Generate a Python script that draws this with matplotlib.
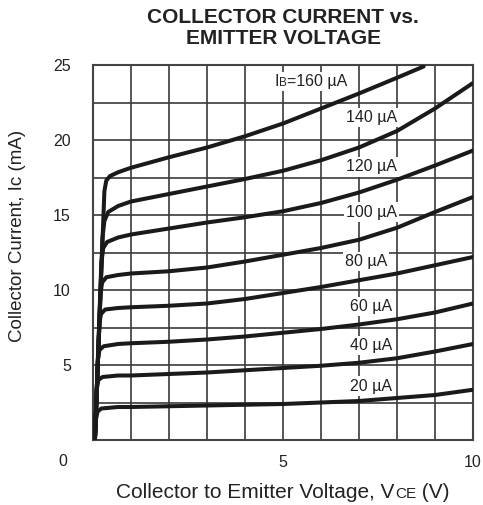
import matplotlib
matplotlib.use("Agg")
import matplotlib.pyplot as plt
from matplotlib.offsetbox import TextArea, HPacker, AnnotationBbox

plt.rcParams['font.family'] = ['Liberation Sans', 'DejaVu Sans']

# ---- data ----
v20 = [0.05, 0.08, 0.12, 0.22, 0.66, 1, 2, 3, 4, 5, 6, 7, 8, 9, 10]
i20 = [0, 1.4, 1.9, 2.1, 2.2, 2.2, 2.25, 2.3, 2.35, 2.4, 2.5, 2.6, 2.8, 3.0, 3.35]
v40 = [0.05, 0.10, 0.14, 0.25, 0.66, 1, 2, 3, 4, 5, 6, 7, 8, 9, 10]
i40 = [0, 3.4, 4.0, 4.2, 4.3, 4.3, 4.4, 4.5, 4.65, 4.8, 4.95, 5.15, 5.45, 5.9, 6.4]
v60 = [0.05, 0.13, 0.17, 0.28, 0.66, 1, 2, 3, 4, 5, 6, 7, 8, 9, 10]
i60 = [0, 5.4, 6.0, 6.25, 6.4, 6.45, 6.55, 6.7, 6.9, 7.15, 7.4, 7.7, 8.05, 8.5, 9.1]
v80 = [0.05, 0.17, 0.21, 0.32, 0.66, 1, 2, 3, 4, 5, 6, 7, 8, 9, 10]
i80 = [0, 7.8, 8.4, 8.7, 8.8, 8.85, 8.95, 9.1, 9.4, 9.8, 10.2, 10.65, 11.1, 11.65, 12.2]
v100 = [0.05, 0.20, 0.24, 0.35, 0.66, 1, 2, 3, 4, 5, 6, 7, 8, 9, 10]
i100 = [0, 9.8, 10.5, 10.85, 11.0, 11.1, 11.25, 11.5, 11.9, 12.35, 12.8, 13.35, 14.15, 15.2, 16.2]
v120 = [0.05, 0.22, 0.27, 0.37, 0.66, 1, 2, 3, 4, 5, 6, 7, 8, 9, 10]
i120 = [0, 11.8, 12.8, 13.2, 13.5, 13.7, 14.1, 14.5, 14.85, 15.25, 15.8, 16.5, 17.35, 18.3, 19.3]
v140 = [0.05, 0.25, 0.30, 0.40, 0.66, 1, 2, 3, 4, 5, 6, 7, 8, 9, 10]
i140 = [0, 13.5, 14.6, 15.2, 15.6, 15.9, 16.4, 16.9, 17.4, 17.95, 18.65, 19.5, 20.6, 22.1, 23.8]
v160 = [0.05, 0.30, 0.35, 0.45, 0.66, 1, 2, 3, 4, 5, 6, 7, 8, 8.7]
i160 = [0, 16.6, 17.3, 17.6, 17.85, 18.15, 18.85, 19.5, 20.25, 21.1, 22.1, 23.1, 24.15, 24.9]

curves = [(v20, i20), (v40, i40), (v60, i60), (v80, i80),
          (v100, i100), (v120, i120), (v140, i140), (v160, i160)]

label_texts = ["20 µA", "40 µA", "60 µA", "80 µA", "100 µA", "120 µA", "140 µA"]
label_x = [7.32, 7.32, 7.32, 7.18, 7.32, 7.32, 7.32]
label_y = [3.6, 6.3, 8.9, 11.9, 15.2, 18.2, 21.5]

x_grid = list(range(0, 11))
y_grid = [0, 2.5, 5, 7.5, 10, 12.5, 15, 17.5, 20, 22.5, 25]
x_ticklabels = ["", "", "", "", "", "5", "", "", "", "", "10"]
y_ticklabels = ["", "", "5", "", "10", "", "15", "", "20", "", "25"]

# ---- figure ----
fig = plt.figure(figsize=(4.83, 5.05), dpi=100)
ax = fig.add_axes([93/483, 1-440/505, 380/483, 375/505])

grid_color = '#3a3a3a'
txt_color = '#222222'
for (v, i) in curves:
    ax.plot(v, i, color='#1a1a1a', lw=2.9, solid_capstyle='round',
            solid_joinstyle='round', zorder=4)

ax.set_xlim(0, 10)
ax.set_ylim(0, 25)
ax.set_xticks(x_grid)
ax.set_xticklabels(x_ticklabels)
ax.set_yticks(y_grid)
ax.set_yticklabels(y_ticklabels)
ax.tick_params(length=0, labelsize=11.5, colors=txt_color)
ax.tick_params(axis='x', pad=11)
ax.tick_params(axis='y', pad=16)
ax.grid(True, color=grid_color, lw=1.2, zorder=1)
ax.set_axisbelow(True)
for s in ax.spines.values():
    s.set_color('#444444')
    s.set_linewidth(1.5)

fig.text(63/483, 1-461/505, "0", ha='center', va='center', fontsize=11.5, color=txt_color)

for t, x, y in zip(label_texts, label_x, label_y):
    ax.text(x, y, t, ha='center', va='center', fontsize=11.5, color=txt_color, zorder=3,
            bbox=dict(fc='white', ec='none', pad=1.5))

# IB label
ib = HPacker(children=[TextArea("I", textprops=dict(size=11.5, color=txt_color)),
                       TextArea("B", textprops=dict(size=8.5, color=txt_color)),
                       TextArea("=160 µA", textprops=dict(size=11.5, color=txt_color))],
             align='baseline', pad=0, sep=0)
ab = AnnotationBbox(ib, (5.74, 23.9), xycoords='data', frameon=True,
                    bboxprops=dict(fc='white', ec='none'), pad=0.15, zorder=3)
ax.add_artist(ab)

# title
fig.text(283/483, 1-28/505, "COLLECTOR CURRENT vs.\nEMITTER VOLTAGE", ha='center', va='center',
         fontsize=15, fontweight='bold', color=txt_color, linespacing=1.1)

# y label
fig.text(18/483, 1-236/505, "Collector Current, Ic (mA)", rotation=90, ha='center', va='center',
         fontsize=13.5, color=txt_color)

# x label
xl = HPacker(children=[TextArea("Collector to Emitter Voltage, V", textprops=dict(size=15, color=txt_color)),
                       TextArea("CE", textprops=dict(size=11, color=txt_color)),
                       TextArea(" (V)", textprops=dict(size=15, color=txt_color))],
             align='baseline', pad=0, sep=0)
ab2 = AnnotationBbox(xl, (283/483, 1-492/505), xycoords='figure fraction', frameon=False,
                     box_alignment=(0.5, 0.5))
fig.add_artist(ab2)

fig.savefig("out.png", dpi=100)
